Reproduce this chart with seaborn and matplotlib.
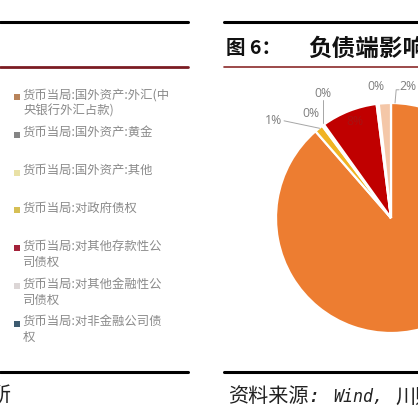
import matplotlib
matplotlib.use("Agg")
import matplotlib.pyplot as plt
import seaborn as sns

# legend of the left panel (its chart is cut off)
legend_labels = [
    "货币当局:国外资产:外汇(中\n央银行外汇占款)",
    "货币当局:国外资产:黄金",
    "货币当局:国外资产:其他",
    "货币当局:对政府债权",
    "货币当局:对其他存款性公\n司债权",
    "货币当局:对其他金融性公\n司债权",
    "货币当局:对非金融公司债\n权",
]
legend_colors = ["#b8835a", "#858585", "#e9e1a6", "#d6bf55", "#a3223a", "#dcd6d6", "#3d5b70"]

# pie of figure 6, clockwise from 12 o'clock
pie_shares = [88.6, 1.2, 0.2, 0.1, 7.9, 0.3, 1.7]
pie_labels = ["", "1%", "0%", "0%", "8%", "0%", "2%"]
pie_colors = ["#ed7d31", "#f0b323", "#a5a5a5", "#ffc000", "#c00000", "#5b9bd5", "#f4c7a8"]

sns.set_style("white")
plt.rcParams["font.family"] = ["Noto Sans CJK SC", "DejaVu Sans"]
src_font = ["DejaVu Sans Mono", "Noto Sans CJK SC"]

fig = plt.figure(figsize=(4.18, 4.18), dpi=100)
bg = fig.add_axes([0, 0, 1, 1])
bg.set_xlim(0, 418)
bg.set_ylim(418, 0)
bg.axis("off")

# report frame lines
bg.plot([0, 188], [22, 22], color="black", lw=2.2)
bg.plot([0, 188], [67, 67], color="#7b1c22", lw=2)
bg.plot([0, 188], [372, 372], color="black", lw=2.2)
bg.plot([224, 418], [22, 22], color="black", lw=2.2)
bg.plot([224, 418], [67, 67], color="#8b2a2a", lw=1.2)
bg.plot([224, 418], [372, 372], color="black", lw=2.2)

# left legend
for i, (lab, col) in enumerate(zip(legend_labels, legend_colors)):
    y = 97 + 37.8 * i
    bg.scatter([16.5], [y], marker="s", s=14, color=col, linewidths=0)
    bg.text(23, y - 8.5, lab, fontsize=8.9, color="#8a8a8a", va="top", ha="left",
            linespacing=1.3)

bg.text(11, 395, "川财证券研究所", fontsize=14.5, style="italic", ha="right", va="center",
        color="#222222", family=src_font)

# right panel title and source
bg.text(226, 49, "图 6：", fontsize=14, fontweight="bold", ha="left", va="center", color="#111111")
bg.text(308, 49, "负债端影响", fontsize=17, fontweight="bold", ha="left", va="center", color="#111111")
bg.text(228, 397, "资料来源:", fontsize=14.5, style="italic", ha="left", va="center",
        color="#222222", family=src_font)
bg.text(333, 397, "Wind,", fontsize=12, style="italic", ha="left", va="center",
        color="#222222", family=src_font)
bg.text(395, 397, "川财证券研究所", fontsize=14.5, style="italic", ha="left", va="center",
        color="#222222", family=src_font)

# pie
ax = fig.add_axes([276 / 418, 85 / 418, 230 / 418, 230 / 418])
wedges, _ = ax.pie(pie_shares, colors=pie_colors, startangle=90, counterclock=False,
                   wedgeprops=dict(edgecolor="white", linewidth=1.6))
ax.set_xlim(-1, 1)
ax.set_ylim(-1, 1)
ax.set_aspect("equal")
ax.axis("off")

# data labels (positions in pie units)
lab_font = ["Open Sans", "DejaVu Sans"]
label_pos = {1: (-1.02, 0.85), 2: (-0.70, 0.91), 3: (-0.59, 1.08), 5: (-0.13, 1.14), 6: (0.15, 1.14)}
for i, (tx, ty) in label_pos.items():
    ax.text(tx, ty, pie_labels[i], fontsize=8.8, color="#7f7f7f", ha="center", va="center",
            family=lab_font)
ax.text(-0.31, 0.84, pie_labels[4], fontsize=8.8, color="#a81212", ha="center", va="center",
        family=lab_font)
lw = 0.7
ax.plot([-0.93, -0.62], [0.845, 0.78], color="#a6a6a6", lw=lw, clip_on=False)
ax.plot([-0.59, -0.59], [1.03, 0.83], color="#a6a6a6", lw=lw, clip_on=False)
ax.plot([0.07, 0.045, 0.035], [1.115, 1.115, 1.0], color="#a6a6a6", lw=lw, clip_on=False)

fig.savefig("out.png", dpi=100)
